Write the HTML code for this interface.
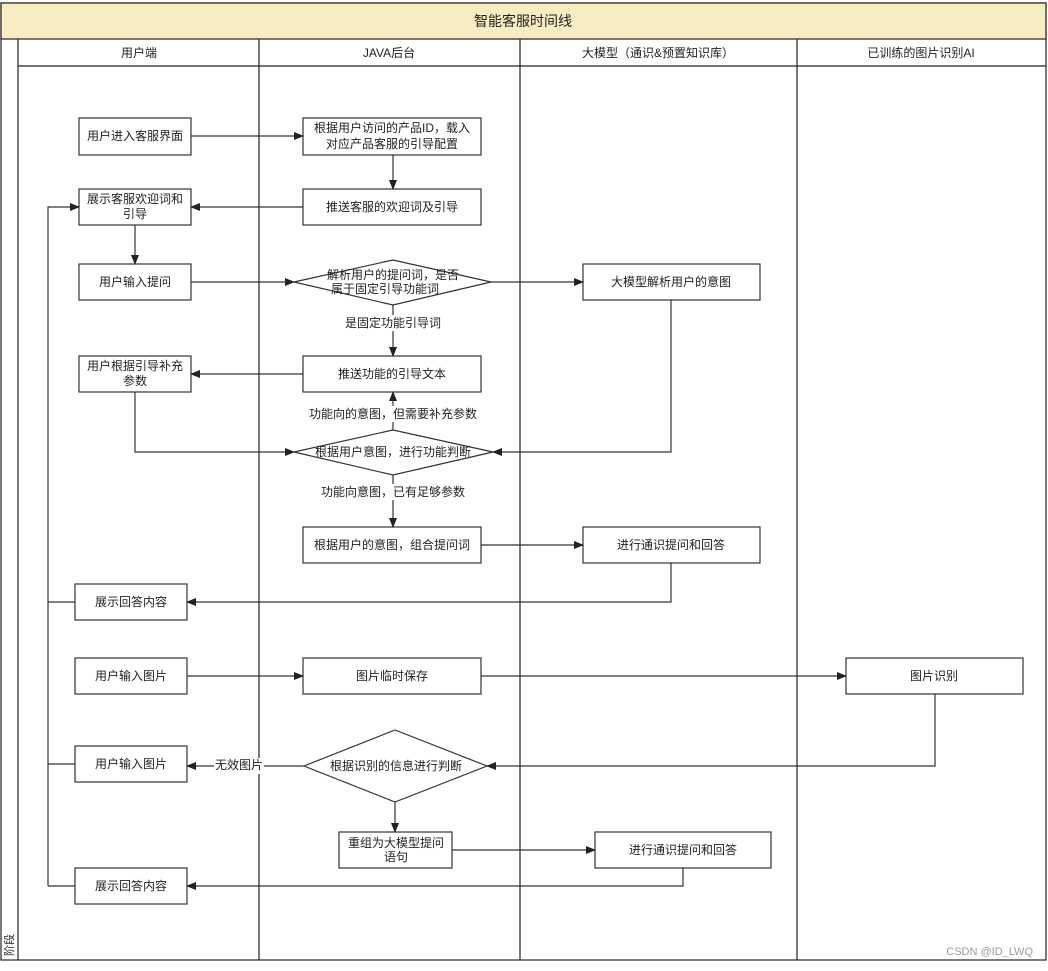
<!DOCTYPE html>
<html><head><meta charset="utf-8"><style>
html,body{margin:0;padding:0;background:#fff;}
svg text{font-family:"Liberation Sans","Noto Sans CJK SC",sans-serif;font-size:12px;fill:#222;}
</style></head><body>
<svg width="1048" height="966" viewBox="0 0 1048 966" xmlns="http://www.w3.org/2000/svg">
<defs><marker id="a" markerWidth="10" markerHeight="8" refX="9" refY="4" orient="auto" markerUnits="userSpaceOnUse"><path d="M0,0 L10,4 L0,8 z" fill="#222"/></marker></defs>
<rect x="1" y="3" width="1045" height="957" fill="#fff" stroke="#222" stroke-width="1.2"/>
<rect x="1" y="3" width="1045" height="36" fill="#f8ecc2" stroke="#222" stroke-width="1.2"/>
<text x="523" y="26" text-anchor="middle" style="font-size:14px">智能客服时间线</text>
<g stroke="#222" stroke-width="1.2" fill="none">
<line x1="18" y1="39" x2="18" y2="960"/>
<line x1="18" y1="66" x2="1046" y2="66"/>
<line x1="259" y1="39" x2="259" y2="960"/>
<line x1="520" y1="39" x2="520" y2="960"/>
<line x1="797" y1="39" x2="797" y2="960"/>
</g>
<text x="139" y="57" text-anchor="middle">用户端</text>
<text x="389" y="57" text-anchor="middle">JAVA后台</text>
<text x="658" y="57" text-anchor="middle">大模型（通识&amp;预置知识库）</text>
<text x="921" y="57" text-anchor="middle">已训练的图片识别AI</text>
<text transform="translate(13,956) rotate(-90)" style="font-size:11px">阶段</text>
<text x="1033" y="955" text-anchor="end" style="font-size:11px;fill:#999">CSDN @ID_LWQ</text>

<g stroke="#333" stroke-width="1.2" fill="#fff">
<rect x="79" y="118" width="112" height="37"/>
<rect x="303" y="118" width="178" height="37"/>
<rect x="79" y="189" width="112" height="36"/>
<rect x="303" y="189" width="178" height="36"/>
<rect x="79" y="264" width="112" height="36"/>
<polygon points="294,282 393,260 491,282 393,305"/>
<rect x="583" y="264" width="177" height="36"/>
<rect x="303" y="356" width="178" height="36"/>
<rect x="79" y="356" width="112" height="36"/>
<polygon points="294,452 393,430 493,452 393,475"/>
<rect x="303" y="527" width="178" height="36"/>
<rect x="583" y="527" width="177" height="36"/>
<rect x="75" y="584" width="112" height="36"/>
<rect x="75" y="658" width="112" height="36"/>
<rect x="303" y="658" width="178" height="36"/>
<rect x="846" y="658" width="177" height="36"/>
<rect x="75" y="746" width="112" height="36"/>
<polygon points="304,766 395,730 487,766 395,802"/>
<rect x="339" y="832" width="113" height="36"/>
<rect x="595" y="832" width="176" height="36"/>
<rect x="75" y="868" width="112" height="36"/>
</g>

<g stroke="#333" stroke-width="1.2" fill="none" marker-end="url(#a)">
<path d="M191,136 H303"/>
<path d="M393,155 V189"/>
<path d="M303,207 H191"/>
<path d="M135,225 V264"/>
<path d="M191,282 H294"/>
<path d="M491,282 H583"/>
<path d="M393,305 V356"/>
<path d="M303,374 H191"/>
<path d="M135,392 V452 H294"/>
<path d="M671,300 V452 H493"/>
<path d="M393,430 V392"/>
<path d="M393,475 V527"/>
<path d="M481,545 H583"/>
<path d="M671,563 V602 H187"/>
<path d="M48,886 V207 H79"/>
<path d="M187,676 H303"/>
<path d="M481,676 H846"/>
<path d="M935,694 V766 H487"/>
<path d="M304,766 H187"/>
<path d="M395,802 V832"/>
<path d="M452,850 H595"/>
<path d="M683,868 V886 H187"/>
</g>
<g stroke="#333" stroke-width="1.2">
<line x1="48" y1="602" x2="75" y2="602"/>
<line x1="48" y1="764" x2="75" y2="764"/>
<line x1="48" y1="886" x2="75" y2="886"/>
</g>
<g fill="#fff">
<rect x="340" y="315" width="106" height="16"/>
<rect x="308" y="406" width="170" height="16"/>
<rect x="318" y="484" width="150" height="16"/>
<rect x="214" y="758" width="50" height="16"/>
</g>

<g text-anchor="middle">
<text x="135" y="140">用户进入客服界面</text>
<text x="392" y="132">根据用户访问的产品ID，载入</text>
<text x="392" y="148">对应产品客服的引导配置</text>
<text x="135" y="203">展示客服欢迎词和</text>
<text x="135" y="218">引导</text>
<text x="392" y="211">推送客服的欢迎词及引导</text>
<text x="135" y="286">用户输入提问</text>
<text x="393" y="279">解析用户的提问词，是否</text>
<text x="385" y="293">属于固定引导功能词</text>
<text x="671" y="286">大模型解析用户的意图</text>
<text x="393" y="327">是固定功能引导词</text>
<text x="392" y="378">推送功能的引导文本</text>
<text x="135" y="370">用户根据引导补充</text>
<text x="135" y="385">参数</text>
<text x="393" y="418">功能向的意图，但需要补充参数</text>
<text x="393" y="456">根据用户意图，进行功能判断</text>
<text x="393" y="496">功能向意图，已有足够参数</text>
<text x="392" y="549">根据用户的意图，组合提问词</text>
<text x="671" y="549">进行通识提问和回答</text>
<text x="131" y="606">展示回答内容</text>
<text x="131" y="680">用户输入图片</text>
<text x="392" y="680">图片临时保存</text>
<text x="934" y="680">图片识别</text>
<text x="131" y="768">用户输入图片</text>
<text x="239" y="769">无效图片</text>
<text x="396" y="770">根据识别的信息进行判断</text>
<text x="396" y="847">重组为大模型提问</text>
<text x="396" y="861">语句</text>
<text x="683" y="854">进行通识提问和回答</text>
<text x="131" y="890">展示回答内容</text>
</g>
</svg>
</body></html>
